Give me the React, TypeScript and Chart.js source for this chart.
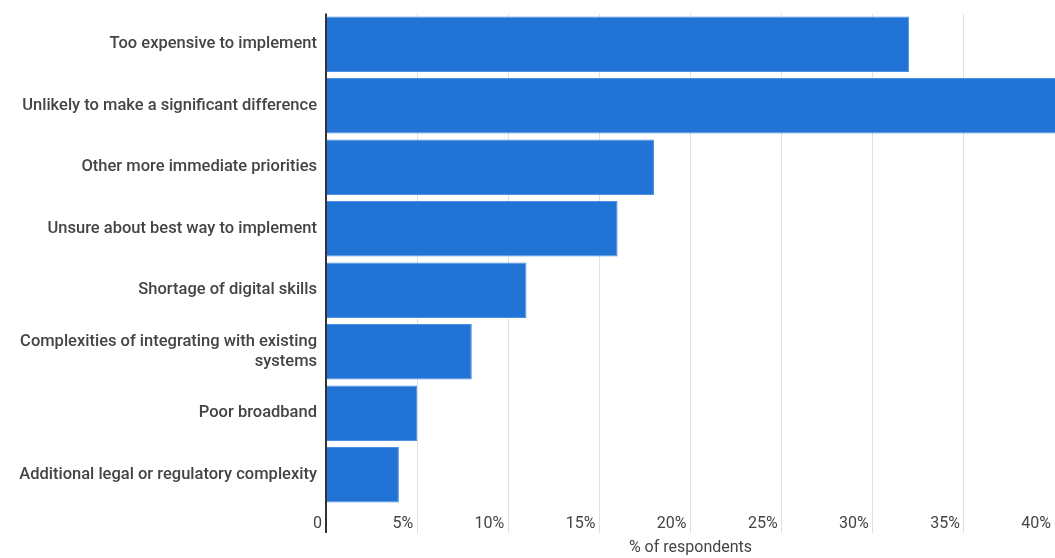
import React, { useEffect, useRef } from "react";
import { Chart, registerables } from "chart.js";

Chart.register(...registerables);

const categories: (string | string[])[] = [
  "Too expensive to implement",
  "Unlikely to make a significant difference",
  "Other more immediate priorities",
  "Unsure about best way to implement",
  "Shortage of digital skills",
  ["Complexities of integrating with existing", "systems"],
  "Poor broadband",
  "Additional legal or regulatory complexity",
];

const values: number[] = [32, 41, 18, 16, 11, 8, 5, 4];

const axisMax = 40;
const tickStep = 5;
const axisTitle = "% of respondents";

export default function App() {
  const ref = useRef<HTMLCanvasElement | null>(null);

  useEffect(() => {
    document.body.style.margin = "0";
    const canvas = ref.current;
    if (!canvas) return;
    const chart = new Chart(canvas, {
      type: "bar",
      data: {
        labels: categories,
        datasets: [
          {
            data: values,
            backgroundColor: "#2174d6",
            borderColor: "#4b90e2",
            borderWidth: 1,
            categoryPercentage: 1,
            barPercentage: 0.9,
          },
        ],
      },
      options: {
        indexAxis: "y",
        responsive: false,
        animation: false,
        layout: { padding: { top: 13.5, right: 0, left: 0, bottom: 0 } },
        plugins: {
          legend: { display: false },
          tooltip: { enabled: false },
        },
        scales: {
          x: {
            min: 0,
            max: axisMax,
            border: { display: false },
            afterFit: (scale: any) => {
              scale.height = 52.5;
            },
            grid: {
              color: (ctx: any) => (ctx.index === 0 ? "#333333" : "#e0e0e0"),
              lineWidth: (ctx: any) => (ctx.index === 0 ? 2 : 1),
              tickLength: 27.5,
              drawTicks: true,
            },
            ticks: {
              stepSize: tickStep,
              align: "end",
              padding: -18.5,
              color: "#444444",
              font: { family: "Roboto", size: 16 },
              callback: (v: any) => (Number(v) === 0 ? "0 " : v + "% "),
            },
            title: {
              display: true,
              text: axisTitle,
              color: "#444444",
              font: { family: "Roboto", size: 16 },
              padding: { top: 0, bottom: 0 },
            },
          },
          y: {
            border: { display: false },
            grid: { display: false },
            afterFit: (scale: any) => {
              scale.width = 326;
            },
            ticks: {
              color: "#444444",
              padding: 1,
              font: { family: "Roboto", size: 16.5, weight: 500 as any, lineHeight: 1.17 },
            },
          },
        },
      },
    });
    return () => chart.destroy();
  }, []);

  return <canvas ref={ref} width={1055} height={558} />;
}
